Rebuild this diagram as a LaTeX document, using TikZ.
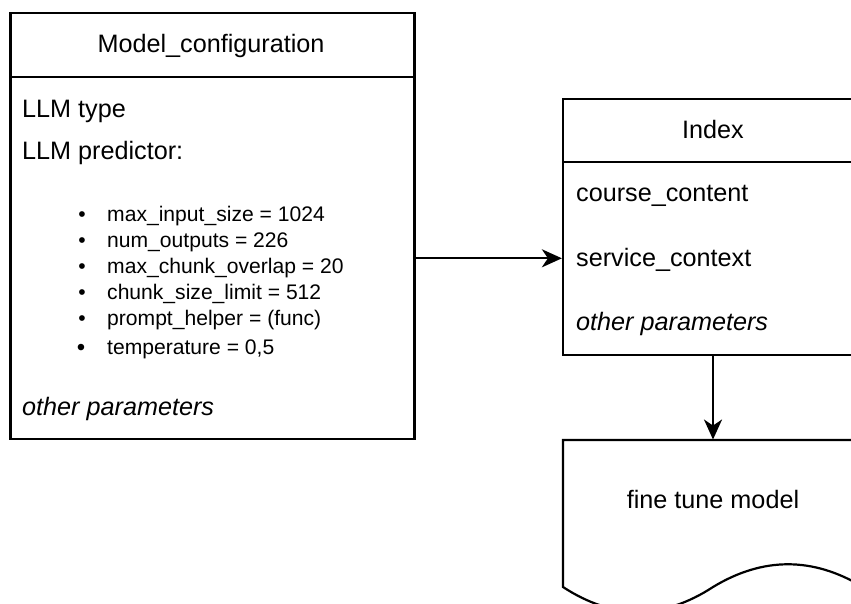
\documentclass[tikz,border=0pt]{standalone}
\usepackage{fontspec}
\setmainfont{Liberation Sans}
\usetikzlibrary{arrows.meta}
\tikzset{
  box/.style={draw=black, line width=2.2pt, rectangle, inner sep=0pt},
  big/.style={inner sep=0pt, font=\fontsize{25.2}{30}\selectfont},
  small/.style={inner sep=0pt, font=\fontsize{21.1}{24}\selectfont},
  conn/.style={line width=2.2pt, -{Stealth[length=20pt,width=18pt,inset=6pt]}},
  line/.style={line width=2.2pt}
}
\begin{document}
\begin{tikzpicture}[x=1pt,y=-1pt]
\useasboundingbox (0,0) rectangle (851,604);
\clip (0,0) rectangle (851,604);
% left box
\node[box, minimum width=404pt, minimum height=426pt] (model) at (212.5,226) {};
\draw[line] (10.5,77) -- (414.5,77);
\node[big, anchor=base] (mtitle) at (211,53) {Model\_configuration};
\node[big, anchor=base west] (llmtype) at (22,117.5) {LLM type};
\node[big, anchor=base west] (llmpred) at (22,159.5) {LLM predictor:};
\node[small, anchor=base] (b1) at (82,221.7) {•};
\node[small, anchor=base west] (t1) at (107,221.7) {max\_input\_size = 1024};
\node[small, anchor=base] (b2) at (82,247.7) {•};
\node[small, anchor=base west] (t2) at (107,247.7) {num\_outputs = 226};
\node[small, anchor=base] (b3) at (82,273.3) {•};
\node[small, anchor=base west] (t3) at (107,273.3) {max\_chunk\_overlap = 20};
\node[small, anchor=base] (b4) at (82,299.3) {•};
\node[small, anchor=base west] (t4) at (107,299.3) {chunk\_size\_limit = 512};
\node[small, anchor=base] (b5) at (82,325.3) {•};
\node[small, anchor=base west] (t5) at (107,325.3) {prompt\_helper = (func)};
\node[small, anchor=base, font=\fontsize{24}{28}\selectfont] (b6) at (81,355) {•};
\node[small, anchor=base west] (t6) at (107,354) {temperature = 0,5};
\node[big, anchor=base west, font=\fontsize{25.2}{30}\selectfont\itshape] (mother) at (22,415) {other parameters};
% Index box
\node[box, minimum width=300pt, minimum height=256pt] (index) at (713,227) {};
\draw[line] (563,162) -- (863,162);
\node[big, anchor=base] (ititle) at (713,139) {Index};
\node[big, anchor=base west] (course) at (576,201.7) {course\_content};
\node[big, anchor=base west] (svc) at (576,266) {service\_context};
\node[big, anchor=base west, font=\fontsize{25.2}{30}\selectfont\itshape] (iother) at (576,330) {other parameters};
% document shape
\node[inner sep=0pt, minimum width=300pt, minimum height=122.5pt] (doc) at (713,501) {};
\draw[line, line join=miter]
  (563,440) -- (863,440) -- (863,587)
  .. controls (813,556.7) and (763,556.7) .. (713,587)
  .. controls (663,619.7) and (613,619.7) .. (563,587) -- cycle;
\node[big, anchor=base] (doctext) at (713,508.3) {fine tune model};
% connectors
\coordinate (arrowy) at (0,258.3);
\draw[conn] (model.east |- arrowy) -- (index.west |- arrowy);
\draw[conn] (index.south) -- (doc.north);
\end{tikzpicture}
\end{document}
